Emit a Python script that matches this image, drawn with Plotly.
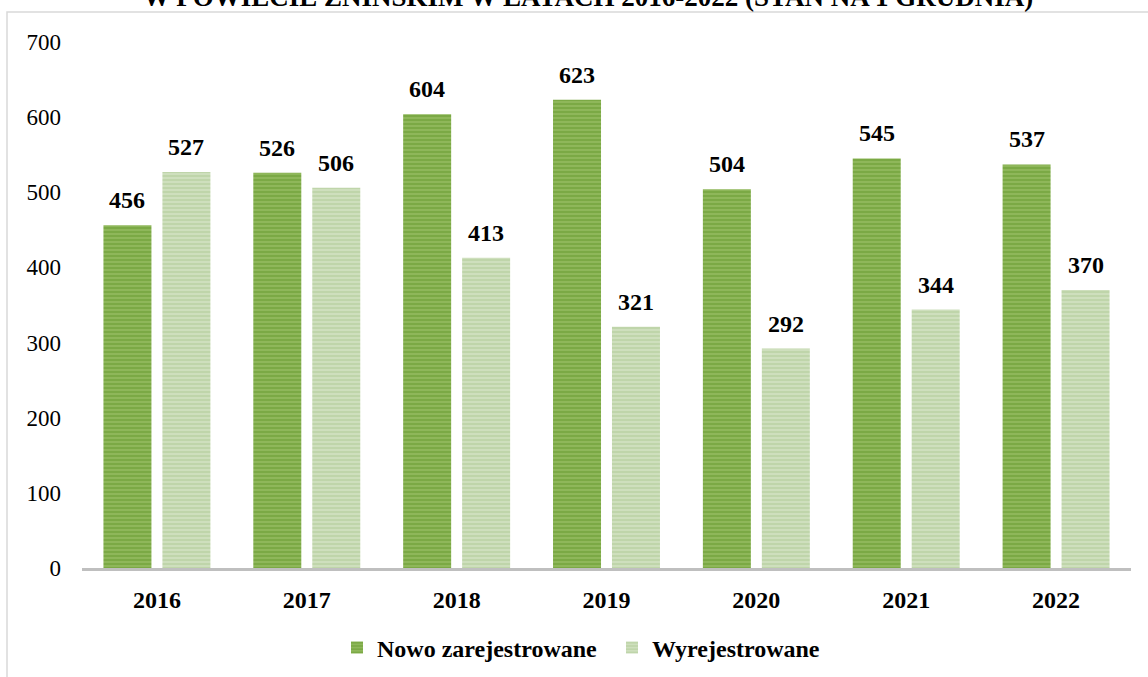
import plotly.graph_objects as go

years = ["2016", "2017", "2018", "2019", "2020", "2021", "2022"]
nowo = [456, 526, 604, 623, 504, 545, 537]
wyrej = [527, 506, 413, 321, 292, 344, 370]
series_names = ["Nowo zarejestrowane", "Wyrejestrowane"]
title_text = "W POWIECIE ŻNIŃSKIM W LATACH 2016-2022 (STAN NA 1 GRUDNIA)"

W, H = 1148, 677
ml, mr, mt, mb = 82, 17, 42, 109
pw = W - ml - mr
ph = H - mt - mb

def px_to_paper_x(px):
    return (px - ml) / pw

def px_to_paper_y(py):
    return 1 + (mt - py) / ph

FONT = "Liberation Serif, Times New Roman, serif"

fig = go.Figure()
fig.add_trace(go.Bar(
    x=years, y=nowo, name=series_names[0],
    marker=dict(color="#a9cc78", line=dict(width=0),
                pattern=dict(shape="-", fgcolor="#4e8612", size=4, solidity=0.8, fillmode="overlay")),
))
fig.add_trace(go.Bar(
    x=years, y=wyrej, name=series_names[1],
    marker=dict(color="#d9e7ca", line=dict(width=0),
                pattern=dict(shape="-", fgcolor="#a5c38a", size=4, solidity=0.72, fillmode="overlay")),
))

offset_px = 29.5
for vals, sh in ((nowo, -offset_px), (wyrej, offset_px)):
    for i, v in enumerate(vals):
        fig.add_annotation(x=i, y=v, xref="x", yref="y", text=str(v),
                           showarrow=False, xshift=sh, yanchor="bottom", yshift=10,
                           font=dict(family=FONT, size=24, color="black", weight="bold"))

fig.add_annotation(x=px_to_paper_x(588), y=px_to_paper_y(14), xref="paper", yref="paper",
                   text=title_text, showarrow=False, xanchor="center", yanchor="bottom",
                   font=dict(family=FONT, size=27, color="black", weight="bold"))

fig.add_shape(type="rect", xref="paper", yref="paper",
              x0=px_to_paper_x(7), x1=px_to_paper_x(1200),
              y0=px_to_paper_y(12), y1=px_to_paper_y(720),
              line=dict(color="#d9d9d9", width=1.5), fillcolor="rgba(0,0,0,0)", layer="below")

fig.update_layout(
    width=W, height=H,
    margin=dict(l=ml, r=mr, t=mt, b=mb, pad=0, autoexpand=False),
    paper_bgcolor="white", plot_bgcolor="white",
    barmode="group", bargap=0.213, bargroupgap=0.186,
    font=dict(family=FONT, size=23, color="black"),
    showlegend=True,
    legend=dict(orientation="h", xanchor="left", yanchor="middle",
                xref="container", yref="container",
                x=337 / W, y=1 - 648 / H,
                entrywidth=230, entrywidthmode="pixels",
                font=dict(family=FONT, size=24, color="black", weight="bold"),
                bgcolor="rgba(0,0,0,0)"),
    xaxis=dict(type="category", range=[-0.5, len(years) - 0.5], showgrid=False, showline=True,
               linecolor="#bfbfbf", linewidth=3,
               ticks="", tickfont=dict(family=FONT, size=24, color="black", weight="bold"),
               ticklabelstandoff=8),
    yaxis=dict(range=[0, 700], dtick=100, showgrid=False, showline=False, zeroline=False,
               ticks="", ticklabelstandoff=20,
               tickfont=dict(family=FONT, size=23, color="black")),
)

fig.write_html("out.html", config={"displayModeBar": False},
               post_script="document.body.style.margin='0';")
